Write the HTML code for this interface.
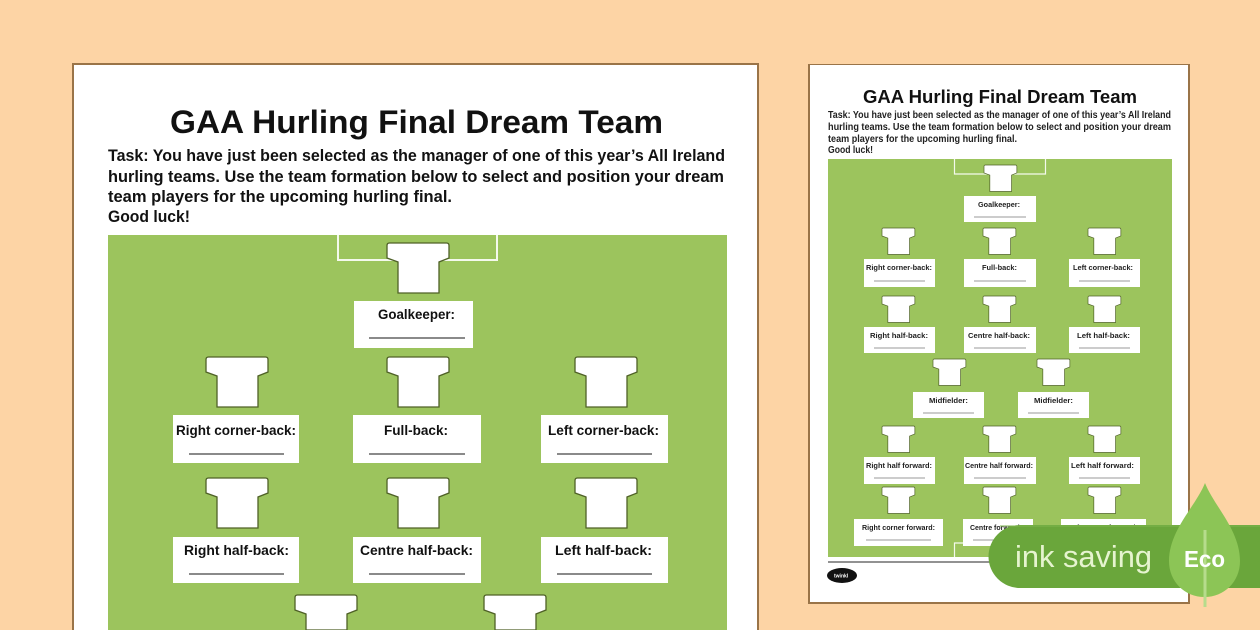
<!DOCTYPE html>
<html><head><meta charset="utf-8"><style>
html,body{margin:0;padding:0;background:#fdd4a5;width:1260px;height:630px;overflow:hidden;}
svg{display:block;}
text{font-family:"Liberation Sans",sans-serif;}
</style></head><body>
<svg width="1260" height="630" viewBox="0 0 1260 630" xmlns="http://www.w3.org/2000/svg">
<defs>
<path id="shirt" d="M2.5,0 H59.5 Q62,0 62,2.5 V15 L52,19 V50 H11 V19 L0,15 V2.5 Q0,0 2.5,0 Z"/>
<path id="shirtcut" d="M2.5,0 H59.5 Q62,0 62,2.5 V15 L52,19 V35 H11 V19 L0,15 V2.5 Q0,0 2.5,0 Z"/>
<clipPath id="frame"><rect x="0" y="0" width="1260" height="630"/></clipPath>
</defs>
<g clip-path="url(#frame)">
<rect width="1260" height="630" fill="#fdd4a5"/>

<!-- LEFT SHEET -->
<rect x="72" y="63" width="687" height="567" fill="#9a7448"/>
<rect x="74" y="65" width="683" height="565" fill="#ffffff"/>
<text x="170" y="133" font-size="32" font-weight="bold" fill="#111" textLength="493" lengthAdjust="spacingAndGlyphs">GAA Hurling Final Dream Team</text>
<g font-size="16.5" font-weight="bold" fill="#111">
<text x="108" y="161" textLength="617" lengthAdjust="spacingAndGlyphs">Task: You have just been selected as the manager of one of this year’s All Ireland</text>
<text x="108" y="182" textLength="616" lengthAdjust="spacingAndGlyphs">hurling teams. Use the team formation below to select and position your dream</text>
<text x="108" y="202" textLength="344" lengthAdjust="spacingAndGlyphs">team players for the upcoming hurling final.</text>
<text x="108" y="222" textLength="82" lengthAdjust="spacingAndGlyphs">Good luck!</text>
</g>
<rect x="108" y="235" width="619" height="395" fill="#9cc45d"/>
<path d="M338,235 V260 H497 V235" fill="none" stroke="#f4f9ec" stroke-width="2"/>

<g fill="#ffffff" stroke="#4f6127" stroke-width="1.3">
<use href="#shirt" x="387" y="243"/>
<use href="#shirt" x="206" y="357"/>
<use href="#shirt" x="387" y="357"/>
<use href="#shirt" x="575" y="357"/>
<use href="#shirt" x="206" y="478"/>
<use href="#shirt" x="387" y="478"/>
<use href="#shirt" x="575" y="478"/>
<use href="#shirtcut" x="295" y="595"/>
<use href="#shirtcut" x="484" y="595"/>
</g>

<g fill="#ffffff">
<rect x="354" y="301" width="119" height="47"/>
<rect x="173" y="415" width="126" height="48"/>
<rect x="353" y="415" width="128" height="48"/>
<rect x="541" y="415" width="127" height="48"/>
<rect x="173" y="537" width="126" height="46"/>
<rect x="353" y="537" width="128" height="46"/>
<rect x="541" y="537" width="127" height="46"/>
</g>
<g stroke="#8a8a8a" stroke-width="2">
<line x1="369" y1="338" x2="465" y2="338"/>
<line x1="189" y1="454" x2="284" y2="454"/>
<line x1="369" y1="454" x2="465" y2="454"/>
<line x1="557" y1="454" x2="652" y2="454"/>
<line x1="189" y1="574" x2="284" y2="574"/>
<line x1="369" y1="574" x2="465" y2="574"/>
<line x1="557" y1="574" x2="652" y2="574"/>
</g>
<g font-size="14" font-weight="bold" fill="#111">
<text x="378" y="319" textLength="77" lengthAdjust="spacingAndGlyphs">Goalkeeper:</text>
<text x="176" y="435" textLength="120" lengthAdjust="spacingAndGlyphs">Right corner-back:</text>
<text x="384" y="435" textLength="64" lengthAdjust="spacingAndGlyphs">Full-back:</text>
<text x="548" y="435" textLength="111" lengthAdjust="spacingAndGlyphs">Left corner-back:</text>
<text x="184" y="555" textLength="105" lengthAdjust="spacingAndGlyphs">Right half-back:</text>
<text x="360" y="555" textLength="113" lengthAdjust="spacingAndGlyphs">Centre half-back:</text>
<text x="555" y="555" textLength="97" lengthAdjust="spacingAndGlyphs">Left half-back:</text>
</g>

<!-- RIGHT SHEET -->
<rect x="808" y="64" width="382" height="540" fill="#9a7448"/>
<rect x="810" y="65" width="378" height="537" fill="#ffffff"/>
<text x="863" y="103" font-size="18" font-weight="bold" fill="#111" textLength="274" lengthAdjust="spacingAndGlyphs">GAA Hurling Final Dream Team</text>
<g font-size="10" font-weight="bold" fill="#222">
<text x="828" y="118" textLength="343" lengthAdjust="spacingAndGlyphs">Task: You have just been selected as the manager of one of this year’s All Ireland</text>
<text x="828" y="130" textLength="343" lengthAdjust="spacingAndGlyphs">hurling teams. Use the team formation below to select and position your dream</text>
<text x="828" y="142" textLength="189" lengthAdjust="spacingAndGlyphs">team players for the upcoming hurling final.</text>
<text x="828" y="153" textLength="45" lengthAdjust="spacingAndGlyphs">Good luck!</text>
</g>
<rect x="828" y="159" width="344" height="398" fill="#9cc45d"/>
<path d="M954.5,159 V174 H1045.5 V159" fill="none" stroke="#f4f9ec" stroke-width="1.2"/>
<path d="M954.5,557 V543 H1045.5 V557" fill="none" stroke="#f4f9ec" stroke-width="1.2"/>

<g fill="#ffffff" stroke="#4f6127" stroke-width="1.3">
<use href="#shirt" transform="translate(984 165) scale(0.53)"/>
<use href="#shirt" transform="translate(882 228) scale(0.53)"/>
<use href="#shirt" transform="translate(983 228) scale(0.53)"/>
<use href="#shirt" transform="translate(1088 228) scale(0.53)"/>
<use href="#shirt" transform="translate(882 296) scale(0.53)"/>
<use href="#shirt" transform="translate(983 296) scale(0.53)"/>
<use href="#shirt" transform="translate(1088 296) scale(0.53)"/>
<use href="#shirt" transform="translate(933 359) scale(0.53)"/>
<use href="#shirt" transform="translate(1037 359) scale(0.53)"/>
<use href="#shirt" transform="translate(882 426) scale(0.53)"/>
<use href="#shirt" transform="translate(983 426) scale(0.53)"/>
<use href="#shirt" transform="translate(1088 426) scale(0.53)"/>
<use href="#shirt" transform="translate(882 487) scale(0.53)"/>
<use href="#shirt" transform="translate(983 487) scale(0.53)"/>
<use href="#shirt" transform="translate(1088 487) scale(0.53)"/>
</g>

<g fill="#ffffff">
<rect x="964" y="196" width="72" height="26"/>
<rect x="864" y="259" width="71" height="28"/>
<rect x="964" y="259" width="72" height="28"/>
<rect x="1069" y="259" width="71" height="28"/>
<rect x="864" y="327" width="71" height="26"/>
<rect x="964" y="327" width="72" height="26"/>
<rect x="1069" y="327" width="71" height="26"/>
<rect x="913" y="392" width="71" height="26"/>
<rect x="1018" y="392" width="71" height="26"/>
<rect x="864" y="457" width="71" height="27"/>
<rect x="964" y="457" width="72" height="27"/>
<rect x="1069" y="457" width="71" height="27"/>
<rect x="854" y="519" width="89" height="27"/>
<rect x="963" y="519" width="70" height="27"/>
<rect x="1061" y="519" width="85" height="27"/>
</g>
<g stroke="#9a9a9a" stroke-width="1">
<line x1="974" y1="217" x2="1026" y2="217"/>
<line x1="874" y1="281" x2="925" y2="281"/>
<line x1="974" y1="281" x2="1026" y2="281"/>
<line x1="1079" y1="281" x2="1130" y2="281"/>
<line x1="874" y1="348" x2="925" y2="348"/>
<line x1="974" y1="348" x2="1026" y2="348"/>
<line x1="1079" y1="348" x2="1130" y2="348"/>
<line x1="923" y1="413" x2="974" y2="413"/>
<line x1="1028" y1="413" x2="1079" y2="413"/>
<line x1="874" y1="478" x2="925" y2="478"/>
<line x1="974" y1="478" x2="1026" y2="478"/>
<line x1="1079" y1="478" x2="1130" y2="478"/>
<line x1="866" y1="540" x2="931" y2="540"/>
<line x1="973" y1="540" x2="1023" y2="540"/>
<line x1="1073" y1="540" x2="1134" y2="540"/>
</g>
<g font-size="7" font-weight="bold" fill="#222">
<text x="978" y="207" textLength="42" lengthAdjust="spacingAndGlyphs">Goalkeeper:</text>
<text x="866" y="270" textLength="66" lengthAdjust="spacingAndGlyphs">Right corner-back:</text>
<text x="982" y="270" textLength="35" lengthAdjust="spacingAndGlyphs">Full-back:</text>
<text x="1073" y="270" textLength="60" lengthAdjust="spacingAndGlyphs">Left corner-back:</text>
<text x="870" y="338" textLength="58" lengthAdjust="spacingAndGlyphs">Right half-back:</text>
<text x="968" y="338" textLength="62" lengthAdjust="spacingAndGlyphs">Centre half-back:</text>
<text x="1077" y="338" textLength="53" lengthAdjust="spacingAndGlyphs">Left half-back:</text>
<text x="929" y="403" textLength="39" lengthAdjust="spacingAndGlyphs">Midfielder:</text>
<text x="1034" y="403" textLength="39" lengthAdjust="spacingAndGlyphs">Midfielder:</text>
<text x="866" y="468" textLength="66" lengthAdjust="spacingAndGlyphs">Right half forward:</text>
<text x="965" y="468" textLength="68" lengthAdjust="spacingAndGlyphs">Centre half forward:</text>
<text x="1071" y="468" textLength="63" lengthAdjust="spacingAndGlyphs">Left half forward:</text>
<text x="862" y="530" textLength="73" lengthAdjust="spacingAndGlyphs">Right corner forward:</text>
<text x="970" y="530" textLength="52" lengthAdjust="spacingAndGlyphs">Centre forward:</text>
<text x="1068" y="530" textLength="70" lengthAdjust="spacingAndGlyphs">Left corner forward:</text>
</g>
<line x1="828" y1="562" x2="1172" y2="562" stroke="#6e6e6e" stroke-width="1.5"/>
<ellipse cx="842" cy="575.5" rx="15" ry="7.5" fill="#111"/>
<text x="834" y="577.5" font-size="5" font-weight="bold" fill="#fff">twinkl</text>

<!-- ECO BADGE -->
<path d="M1020,525 H1260 V588 H1020 A31.5,31.5 0 0 1 1020,525 Z" fill="#6aa63b"/>
<line x1="1000" y1="526" x2="1260" y2="526" stroke="#7db54d" stroke-width="1"/>
<path d="M1205,483 C1196,506 1169,530 1169,561 C1169,582 1185,597 1204.5,597 C1224,597 1240,582 1240,561 C1240,530 1214,506 1205,483 Z" fill="#8cc556"/>
<line x1="1205" y1="530" x2="1205" y2="607" stroke="#b6dc8c" stroke-width="3"/>
<text x="1015" y="567" font-size="31" fill="#e6f4cf" textLength="137" lengthAdjust="spacingAndGlyphs">ink saving</text>
<text x="1184" y="567" font-size="23" font-weight="bold" fill="#ffffff" textLength="41" lengthAdjust="spacingAndGlyphs">Eco</text>
</g>
</svg>
</body></html>
